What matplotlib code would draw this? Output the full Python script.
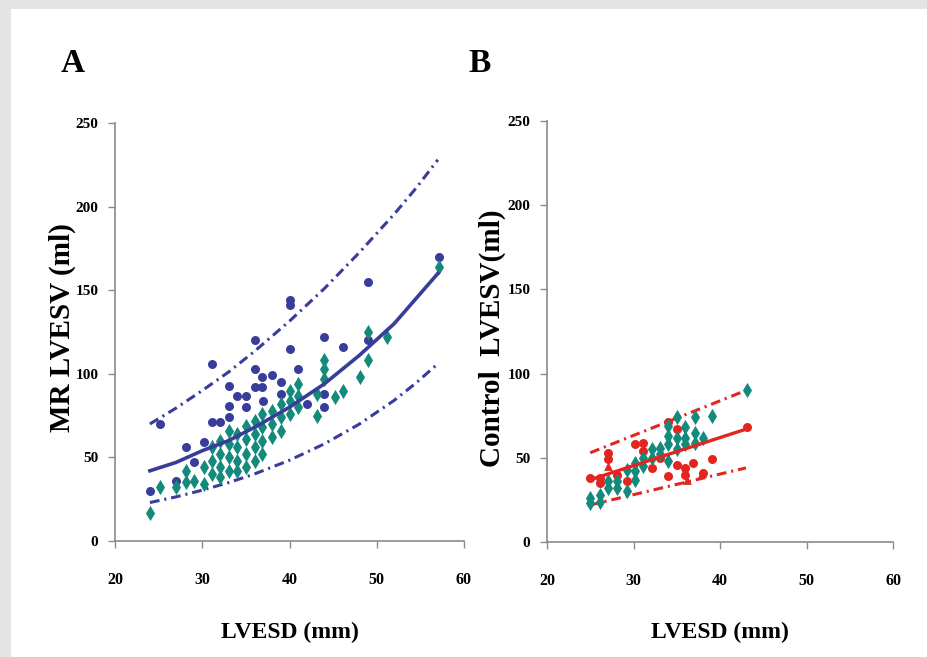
import matplotlib
matplotlib.use("Agg")
import matplotlib.pyplot as plt
from matplotlib.patches import Rectangle

# ---------------- data ----------------
# Panel A: MR group
a_navy_x = [24.0, 25.2, 28.1, 29.0, 27.0, 30.2, 31.1, 31.1, 32.0, 33.1, 33.1, 34.0, 35.0,
            36.0, 36.0, 36.0, 36.9, 36.9, 38.0, 39.0, 40.1, 40.1, 40.1, 41.0, 44.0, 44.0,
            44.0, 46.1, 49.0, 49.0, 57.1, 33.1, 35.0, 37.0, 39.0, 42.0]
a_navy_y = [30, 70, 56, 47, 36, 59, 106, 71, 71, 93, 81, 87, 87,
            120, 103, 92, 98, 92, 99, 95, 144, 141, 115, 103, 122, 88,
            80, 116, 155, 120, 170, 74, 80, 84, 88, 82]

a_teal_x = [24.0, 25.2, 27.0, 28.1, 28.1, 29.1, 30.2, 30.2, 31.1, 31.1, 31.1,
            32.0, 32.0, 32.0, 32.0, 33.1, 33.1, 33.1, 33.1, 34.0, 34.0, 34.0, 34.0,
            35.0, 35.0, 35.0, 35.0, 36.0, 36.0, 36.0, 36.0, 36.9, 36.9, 36.9, 36.9,
            38.0, 38.0, 38.0, 39.0, 39.0, 39.0, 40.1, 40.1, 40.1, 41.0, 41.0, 41.0,
            43.1, 43.1, 44.0, 44.0, 44.0, 45.2, 46.1, 48.1, 49.0, 49.0, 51.2, 57.1]
a_teal_y = [17, 32, 32, 42, 35, 36, 44, 34, 56, 48, 40,
            60, 52, 44, 38, 66, 58, 50, 42, 64, 56, 48, 42,
            69, 61, 52, 44, 72, 64, 56, 48, 76, 68, 60, 52,
            78, 70, 62, 82, 74, 66, 90, 84, 76, 94, 87, 80,
            88, 75, 108, 103, 97, 86, 90, 98, 125, 108, 122, 164]

# regression curve and prediction bands, panel A (values read at these x)
a_curve_x = [24, 27, 30, 33, 36, 40, 44, 48, 52, 54.5, 57]
a_fit_y = [42, 47, 54, 60, 68, 80, 94, 111, 130, 145, 160]
a_upper_y = [70, 79.5, 90, 101, 113.5, 131.5, 151, 172.5, 195.5, 211, 228]
a_lower_y = [23, 26.4, 30.4, 34.9, 40.1, 48.3, 58.1, 69.9, 84.1, 94.5, 106]

# Panel B: control group
b_teal_x = [25.0, 25.0, 26.1, 26.1, 27.1, 27.1, 28.1, 28.1, 29.2, 29.2, 30.2, 30.2, 30.2,
            31.1, 31.1, 32.1, 32.1, 33.1, 33.1, 34.0, 34.0, 34.0, 34.0, 35.0, 35.0, 35.0,
            36.0, 36.0, 36.0, 37.1, 37.1, 37.1, 38.0, 39.1, 43.1]
b_teal_y = [26, 23, 28, 24, 32, 36, 32, 36, 43, 30, 47, 42, 37,
            50, 45, 55, 50, 56, 52, 69, 63, 58, 48, 74, 62, 55,
            68, 62, 58, 74, 65, 59, 62, 75, 90]

b_red_x = [25.0, 26.1, 26.1, 27.1, 27.1, 29.2, 30.2, 31.1, 31.1, 32.1, 34.0, 34.0, 35.0, 35.0,
           36.0, 36.0, 36.9, 38.0, 39.1, 43.1, 33.1, 28.1]
b_red_y = [38, 38, 35, 53, 49, 36, 58, 59, 54, 44, 39, 71, 67, 46,
           44, 40, 47, 41, 49, 68, 50, 40]
b_tri_x = [36.2, 37.9, 27.1]
b_tri_y = [37, 41, 45]

b_curve_x = [25, 43]
b_fit_y = [37, 67]
b_upper_y = [53, 90]
b_lower_y = [22, 44]

x_ticks = [20, 30, 40, 50, 60]
y_ticks = [0, 50, 100, 150, 200, 250]

# ---------------- styling ----------------
NAVY = "#383c9a"
TEAL = "#138a7c"
RED = "#e3241f"
SERIF = ["Liberation Serif", "DejaVu Serif"]
DASHDOT = (0, (3.2, 1.6, 0.7, 1.6))

fig = plt.figure(figsize=(9.27, 6.57), dpi=100)
fig.patch.set_facecolor("#e4e4e4")
fig.add_artist(Rectangle((0.012, 0.0), 0.988, 0.987, transform=fig.transFigure,
                         facecolor="white", edgecolor="none", zorder=0))

axA = fig.add_axes([115 / 927, 1 - 541 / 657, 349 / 927, 418 / 657])
axB = fig.add_axes([547 / 927, 1 - 542 / 657, 346 / 927, 421 / 657])


def style(ax):
    ax.set_facecolor("none")
    ax.set_xlim(20, 60)
    ax.set_ylim(0, 250)
    ax.set_xticks(x_ticks)
    ax.set_yticks(y_ticks)
    ax.set_xticklabels([str(v) for v in x_ticks], fontfamily=SERIF, fontweight="bold", fontsize=11.5)
    ax.set_yticklabels([str(v) for v in y_ticks], fontfamily=SERIF, fontweight="bold", fontsize=11)
    for s in ("top", "right"):
        ax.spines[s].set_visible(False)
    for s in ("left", "bottom"):
        ax.spines[s].set_color("#8a8a8a")
        ax.spines[s].set_linewidth(1.2)
    ax.tick_params(axis="x", length=5, width=1, color="#8a8a8a", pad=17)
    ax.tick_params(axis="y", length=5, width=1, color="#8a8a8a", pad=7)


style(axA)
style(axB)

# Panel A
axA.plot(a_curve_x, a_upper_y, color=NAVY, lw=2.2, ls=DASHDOT, zorder=2)
axA.plot(a_curve_x, a_lower_y, color=NAVY, lw=2.2, ls=DASHDOT, zorder=2)
axA.scatter(a_navy_x, a_navy_y, s=42, color=NAVY, marker="o", zorder=3, linewidths=0)
axA.scatter(a_teal_x, a_teal_y, s=60, color=TEAL, marker="d", zorder=4, linewidths=0)
axA.plot(a_curve_x, a_fit_y, color=NAVY, lw=2.6, zorder=5)

# Panel B
axB.plot(b_curve_x, b_upper_y, color=RED, lw=2.2, ls=DASHDOT, zorder=2)
axB.plot(b_curve_x, b_lower_y, color=RED, lw=2.2, ls=DASHDOT, zorder=2)
axB.scatter(b_red_x, b_red_y, s=42, color=RED, marker="o", zorder=3, linewidths=0)
axB.scatter(b_tri_x, b_tri_y, s=40, color=RED, marker="^", zorder=3, linewidths=0)
axB.scatter(b_teal_x, b_teal_y, s=60, color=TEAL, marker="d", zorder=4, linewidths=0)
axB.plot(b_curve_x, b_fit_y, color=RED, lw=2.4, zorder=5)

# Texts
fig.text(62 / 927, 1 - 328 / 657, "MR LVESV (ml)", rotation=90, ha="center", va="center",
         fontfamily=SERIF, fontweight="bold", fontsize=21)
fig.text(492 / 927, 1 - 338 / 657, "Control  LVESV(ml)", rotation=90, ha="center", va="center",
         fontfamily=SERIF, fontweight="bold", fontsize=21)
fig.text(290 / 927, 1 - 632 / 657, "LVESD (mm)", ha="center", va="center",
         fontfamily=SERIF, fontweight="bold", fontsize=17)
fig.text(720 / 927, 1 - 632 / 657, "LVESD (mm)", ha="center", va="center",
         fontfamily=SERIF, fontweight="bold", fontsize=17)
fig.text(73 / 927, 1 - 63 / 657, "A", ha="center", va="center",
         fontfamily=SERIF, fontweight="bold", fontsize=24)
fig.text(480 / 927, 1 - 63 / 657, "B", ha="center", va="center",
         fontfamily=SERIF, fontweight="bold", fontsize=24)

fig.savefig("out.png", dpi=100, facecolor=fig.get_facecolor())
